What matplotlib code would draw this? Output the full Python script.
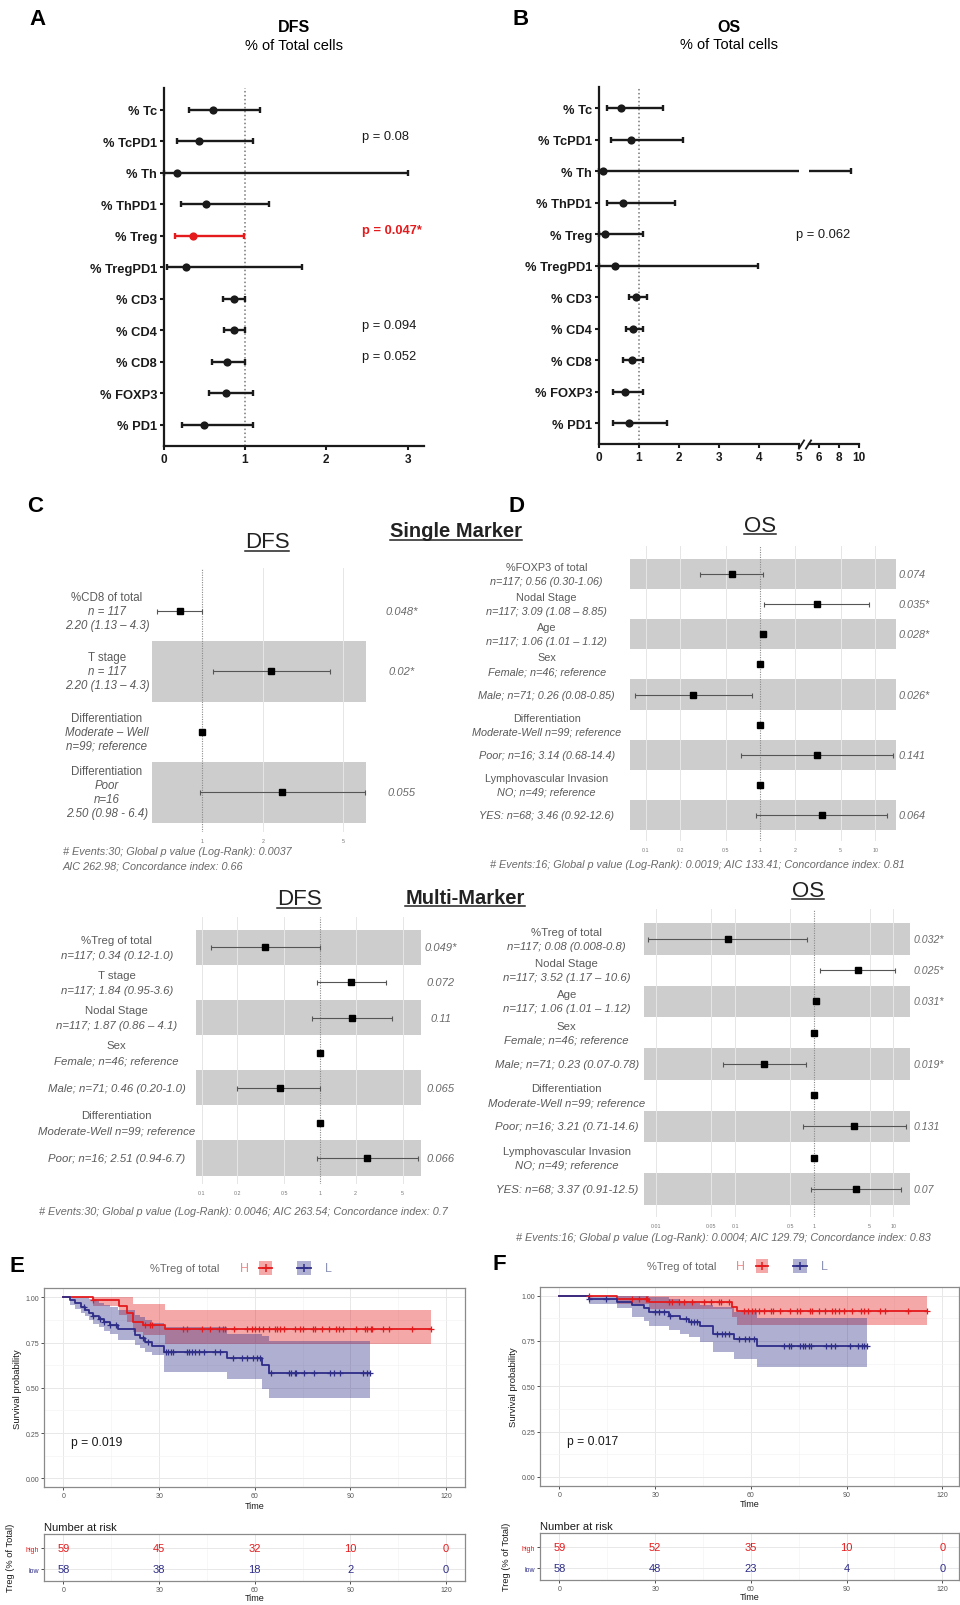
import numpy as np
import matplotlib
matplotlib.use("Agg")
import matplotlib.pyplot as plt
import matplotlib.transforms as mtransforms
from matplotlib.lines import Line2D
from matplotlib.patches import Rectangle

plt.rcParams["font.family"] = ["Liberation Sans", "DejaVu Sans"]

W, H = 960, 1606
RED = "#E41A1C"
BLUE = "#2E2D88"
INK = "#1a1a1a"
GREY_TXT = "#5a5a5a"

# ---------------- A / B : HR per immune population (% of total cells)
markers = ["% Tc", "% TcPD1", "% Th", "% ThPD1", "% Treg", "% TregPD1",
           "% CD3", "% CD4", "% CD8", "% FOXP3", "% PD1"]

dfs_hr = [0.61, 0.43, 0.16, 0.52, 0.36, 0.27, 0.87, 0.87, 0.78, 0.77, 0.50]
dfs_lo = [0.31, 0.16, 0.01, 0.21, 0.14, 0.04, 0.73, 0.74, 0.60, 0.56, 0.23]
dfs_hi = [1.19, 1.10, 3.00, 1.29, 0.99, 1.70, 1.00, 1.00, 1.00, 1.10, 1.10]
dfs_p = [None, "p = 0.08", None, None, "p = 0.047*", None, None,
         "p = 0.094", "p = 0.052", None, None]

os_hr = [0.57, 0.80, 0.11, 0.62, 0.17, 0.41, 0.92, 0.85, 0.82, 0.65, 0.76]
os_lo = [0.20, 0.30, 0.01, 0.20, 0.02, 0.02, 0.76, 0.67, 0.60, 0.37, 0.36]
os_hi = [1.60, 2.10, 9.20, 1.91, 1.10, 3.97, 1.20, 1.11, 1.11, 1.11, 1.71]
os_p = [None, None, None, None, "p = 0.062", None, None, None, None, None, None]

# ---------------- C / D : Cox models
c1_heads = ["%CD8 of total", "T stage", "Differentiation", "Differentiation"]
c1_subs = ["n = 117\n2.20 (1.13 \u2013 4.3)", "n = 117\n2.20 (1.13 \u2013 4.3)",
           "Moderate \u2013 Well\nn=99; reference", "Poor\nn=16\n2.50 (0.98 - 6.4)"]
c1_hr = [0.78, 2.20, 1.0, 2.50]
c1_lo = [0.60, 1.13, 1.0, 0.98]
c1_hi = [1.00, 4.30, 1.0, 6.40]
c1_p = ["0.048*", "0.02*", None, "0.055"]

d1_heads = ["%FOXP3 of total", "Nodal Stage", "Age", "Sex", None,
            "Differentiation", None, "Lymphovascular Invasion", None]
d1_subs = ["n=117; 0.56 (0.30-1.06)", "n=117; 3.09 (1.08 \u2013 8.85)",
           "n=117; 1.06 (1.01 \u2013 1.12)", "Female; n=46; reference",
           "Male; n=71; 0.26 (0.08-0.85)", "Moderate-Well n=99; reference",
           "Poor; n=16; 3.14 (0.68-14.4)", "NO; n=49; reference",
           "YES: n=68; 3.46 (0.92-12.6)"]
d1_hr = [0.56, 3.09, 1.06, 1.0, 0.26, 1.0, 3.14, 1.0, 3.46]
d1_lo = [0.30, 1.08, 1.01, 1.0, 0.08, 1.0, 0.68, 1.0, 0.92]
d1_hi = [1.06, 8.85, 1.12, 1.0, 0.85, 1.0, 14.4, 1.0, 12.6]
d1_p = ["0.074", "0.035*", "0.028*", None, "0.026*", None, "0.141", None, "0.064"]

c2_heads = ["%Treg of total", "T stage", "Nodal Stage", "Sex", None, "Differentiation", None]
c2_subs = ["n=117; 0.34 (0.12-1.0)", "n=117; 1.84 (0.95-3.6)",
           "n=117; 1.87 (0.86 \u2013 4.1)", "Female; n=46; reference",
           "Male; n=71; 0.46 (0.20-1.0)", "Moderate-Well n=99; reference",
           "Poor; n=16; 2.51 (0.94-6.7)"]
c2_hr = [0.34, 1.84, 1.87, 1.0, 0.46, 1.0, 2.51]
c2_lo = [0.12, 0.95, 0.86, 1.0, 0.20, 1.0, 0.94]
c2_hi = [1.00, 3.60, 4.10, 1.0, 1.00, 1.0, 6.70]
c2_p = ["0.049*", "0.072", "0.11", None, "0.065", None, "0.066"]

d2_heads = ["%Treg of total", "Nodal Stage", "Age", "Sex", None,
            "Differentiation", None, "Lymphovascular Invasion", None]
d2_subs = ["n=117; 0.08 (0.008-0.8)", "n=117; 3.52 (1.17 \u2013 10.6)",
           "n=117; 1.06 (1.01 \u2013 1.12)", "Female; n=46; reference",
           "Male; n=71; 0.23 (0.07-0.78)", "Moderate-Well n=99; reference",
           "Poor; n=16; 3.21 (0.71-14.6)", "NO; n=49; reference",
           "YES: n=68; 3.37 (0.91-12.5)"]
d2_hr = [0.08, 3.52, 1.06, 1.0, 0.23, 1.0, 3.21, 1.0, 3.37]
d2_lo = [0.008, 1.17, 1.01, 1.0, 0.07, 1.0, 0.71, 1.0, 0.91]
d2_hi = [0.80, 10.6, 1.12, 1.0, 0.78, 1.0, 14.6, 1.0, 12.5]
d2_p = ["0.032*", "0.025*", "0.031*", None, "0.019*", None, "0.131", None, "0.07"]

# ---------------- E / F : Kaplan-Meier by %Treg (high / low)
e_hi_t = [0, 9.4, 17.3, 19.8, 21.9, 25.0, 32.0]
e_hi_s = [1.0, 0.983, 0.95, 0.915, 0.865, 0.847, 0.825]
e_hi_lo = [1.0, 0.95, 0.905, 0.865, 0.81, 0.79, 0.742]
e_hi_up = [1.0, 1.0, 1.0, 1.0, 0.962, 0.962, 0.93]
e_hi_end = 115.3
e_hi_cens = [9.4, 25.6, 27.0, 27.7, 37.6, 38.7, 43.4, 45.9, 48.7, 50.1, 50.6, 53.5,
             57.5, 59.1, 60.1, 61.2, 62.5, 64.3, 66.4, 66.9, 68.0, 69.3, 72.6, 74.2,
             75.1, 78.4, 79.0, 81.1, 83.4, 85.6, 86.3, 87.7, 91.8, 94.4, 95.1, 96.5,
             96.9, 100.1, 102.2, 109.3, 115.3]

e_lo_t = [0, 2.1, 3.5, 5.5, 6.8, 7.9, 9.4, 11.0, 12.6, 14.6, 17.2, 22.5, 24.1,
          25.6, 27.7, 31.4, 51.2, 62.4, 64.6]
e_lo_s = [1.0, 0.983, 0.966, 0.948, 0.931, 0.914, 0.897, 0.879, 0.862, 0.845,
          0.827, 0.79, 0.773, 0.752, 0.733, 0.696, 0.666, 0.625, 0.583]
e_lo_lo = [1.0, 0.955, 0.935, 0.915, 0.895, 0.875, 0.855, 0.835, 0.815, 0.795,
           0.765, 0.735, 0.72, 0.70, 0.68, 0.586, 0.546, 0.495, 0.446]
e_lo_up = [1.0, 1.0, 1.0, 1.0, 1.0, 0.99, 0.98, 0.97, 0.955, 0.945, 0.93, 0.905,
           0.89, 0.875, 0.86, 0.835, 0.80, 0.785, 0.76]
e_lo_end = 96.0
e_lo_cens = [6.6, 9.4, 11.5, 12.8, 14.6, 16.4, 24.9, 26.4, 32.1, 32.9, 33.6, 34.2,
             38.6, 39.3, 40.4, 41.4, 42.5, 44.1, 47.4, 49.2, 53.3, 56.1, 57.6, 59.3,
             60.6, 61.6, 65.0, 70.8, 71.3, 72.6, 73.0, 75.4, 78.5, 83.5, 84.8, 86.7,
             93.8, 95.1, 96.0]

f_hi_t = [0, 18.1, 28.0, 54.1, 55.7]
f_hi_s = [1.0, 0.983, 0.965, 0.94, 0.914]
f_hi_lo = [1.0, 0.955, 0.925, 0.885, 0.84]
f_hi_up = [1.0, 1.0, 1.0, 1.0, 1.0]
f_hi_end = 115.3
f_hi_cens = [9.3, 22.8, 24.9, 27.1, 27.6, 34.2, 35.3, 37.4, 39.0, 41.6, 45.3, 47.4,
             50.0, 50.5, 53.2, 57.9, 59.0, 60.4, 61.4, 62.5, 64.1, 66.4, 67.0, 69.1,
             72.4, 74.5, 75.3, 78.5, 79.2, 81.3, 83.2, 85.5, 86.5, 87.6, 89.3, 91.7,
             94.4, 95.4, 96.7, 100.6, 102.0, 109.3, 115.3]

f_lo_t = [0, 9.4, 18.1, 22.8, 26.5, 28.0, 34.3, 37.9, 40.6, 44.2, 48.1, 54.6, 61.8]
f_lo_s = [1.0, 0.983, 0.966, 0.948, 0.93, 0.91, 0.89, 0.872, 0.853, 0.83, 0.79,
          0.763, 0.722]
f_lo_lo = [1.0, 0.955, 0.93, 0.885, 0.86, 0.835, 0.81, 0.79, 0.77, 0.745, 0.69,
           0.65, 0.607]
f_lo_up = [1.0, 1.0, 1.0, 1.0, 1.0, 0.995, 0.98, 0.97, 0.96, 0.95, 0.935, 0.91, 0.875]
f_lo_end = 96.3
f_lo_cens = [9.4, 14.7, 30.1, 31.1, 32.9, 34.8, 39.8, 41.1, 42.1, 43.2, 49.4, 50.9,
             52.0, 53.1, 56.2, 58.3, 59.5, 60.9, 70.3, 71.9, 72.6, 75.3, 76.4, 77.1,
             78.2, 78.9, 83.7, 85.0, 86.5, 91.2, 93.6, 94.9, 95.4, 96.3]

risk_times = [0, 30, 60, 90, 120]
e_risk_high = [59, 45, 32, 10, 0]
e_risk_low = [58, 38, 18, 2, 0]
f_risk_high = [59, 52, 35, 10, 0]
f_risk_low = [58, 48, 23, 4, 0]


fig = plt.figure(figsize=(W / 100, H / 100), dpi=100)


def add_ax(x0, y0, x1, y1, **kw):
    # pixel box (top-left origin) -> figure axes
    return fig.add_axes([x0 / W, 1 - y1 / H, (x1 - x0) / W, (y1 - y0) / H], **kw)


def ftext(x, y, s, **kw):
    return fig.text(x / W, 1 - y / H, s, **kw)


# ---------- A / B helpers
def cell_forest(ax, hr, lo, hi, highlight=None):
    for i, (m, l, h) in enumerate(zip(hr, lo, hi)):
        c = RED if i == highlight else INK
        ax.errorbar(m, i, xerr=[[m - l], [h - m]], fmt="none", ecolor=c,
                    elinewidth=1.7, capsize=2.4, capthick=1.7, zorder=3)
        ax.plot(m, i, "o", color=c, ms=5.9, mew=0, zorder=4)


def cell_axes(ax, xmax, ticks):
    ax.spines[["top", "right"]].set_visible(False)
    ax.spines["left"].set_position(("data", 0))
    ax.spines["bottom"].set_bounds(0, xmax)
    for s in ("left", "bottom"):
        ax.spines[s].set_linewidth(1.6)
        ax.spines[s].set_color(INK)
    ax.tick_params(width=1.5, length=3.2, pad=1.5, colors=INK)
    ax.set_xticks(ticks, [str(t) for t in ticks], fontweight="bold", fontsize=8.5)
    ax.set_yticks(np.arange(len(markers)), markers, fontweight="bold", fontsize=9.3)
    ax.axvline(1, color="#777777", ls=(0, (1, 1.6)), lw=1.1, zorder=1)


def cell_pvals(ax, x, pvals, shift, highlight=None):
    for i, p in enumerate(pvals):
        if p:
            sig = i == highlight
            ax.text(x, i + shift, p, ha="left", va="center", fontsize=9.3, zorder=10,
                    color=RED if sig else INK, fontweight="bold" if sig else "normal")


treg = markers.index("% Treg")

axA = add_ax(153.9, 89, 423.9, 447)
axA.set_xlim(-0.12, 3.2)
axA.set_ylim(10.667, -0.698)
cell_forest(axA, dfs_hr, dfs_lo, dfs_hi, highlight=treg)
cell_axes(axA, 3.2, [0, 1, 2, 3])
cell_pvals(axA, 2.44, dfs_p, -0.18, highlight=treg)

axB1 = add_ax(593.9, 88, 798.7, 445)
axB1.set_xlim(-0.12, 5)
axB1.set_ylim(10.657, -0.676)
cell_forest(axB1, os_hr, os_lo, os_hi)
cell_axes(axB1, 5, [0, 1, 2, 3, 4, 5])

axB2 = add_ax(808.7, 88, 858.7, 445, sharey=axB1)
axB2.patch.set_visible(False)
axB2.set_xlim(5, 10)
cell_forest(axB2, os_hr, os_lo, os_hi)
for s in ("top", "right", "left"):
    axB2.spines[s].set_visible(False)
axB2.spines["bottom"].set_linewidth(1.6)
axB2.spines["bottom"].set_color(INK)
axB2.tick_params(axis="y", left=False, labelleft=False)
axB2.tick_params(axis="x", width=1.5, length=3.2, pad=1.5, colors=INK)
axB2.set_xticks([6, 8, 10], ["6", "8", "10"], fontweight="bold", fontsize=8.5)
# p-value sits across the break, so it goes on the upper of the two axes
cell_pvals(axB2, 5 + (795.7 - 808.7) / 10, os_p, 0.0)
# axis break marks
slash = dict(marker=[(-1, -1.6), (1, 1.6)], ms=7, mew=1.3, color=INK,
             linestyle="none", clip_on=False)
axB1.plot([1.01], [0], transform=axB1.transAxes, **slash)
axB2.plot([-0.02], [0], transform=axB2.transAxes, **slash)

ftext(38, 19.5, "A", ha="center", va="center", fontsize=16, fontweight="bold")
ftext(521, 19.5, "B", ha="center", va="center", fontsize=16, fontweight="bold")
ftext(294, 27.5, "DFS", ha="center", va="center", fontsize=11.5, fontweight="bold")
ftext(294, 46, "% of Total cells", ha="center", va="center", fontsize=10.5)
ftext(729, 27.5, "OS", ha="center", va="center", fontsize=11.5, fontweight="bold")
ftext(729, 45, "% of Total cells", ha="center", va="center", fontsize=10.5)


# ---------- C / D helpers
def hr_forest(ax, hr, lo, hi, band_start, ticks, tick_labels, xlim, ylim):
    hr, lo, hi = (np.asarray(v, dtype=float) for v in (hr, lo, hi))
    rows = np.arange(len(hr))
    for r in rows[band_start::2]:
        ax.axhspan(r - 0.5, r + 0.5, color="#cdcdcd", lw=0, zorder=0)
    for t in ticks:
        if t != 1:
            ax.axvline(t, color="#e6e6e6", lw=0.7, zorder=0.5)
    ax.axvline(1, color="#8a8a8a", ls=(0, (1, 1.2)), lw=0.8, zorder=1)
    ci = lo < hi
    ax.errorbar(hr[ci], rows[ci], xerr=[hr[ci] - lo[ci], hi[ci] - hr[ci]], fmt="none",
                ecolor="#555555", elinewidth=0.8, capsize=1.8, capthick=0.8, zorder=2)
    ax.plot(hr, rows, "s", color="black", ms=3.9, zorder=3)
    ax.set_xscale("log")
    ax.set_xlim(*xlim)
    ax.set_ylim(*ylim)
    ax.set_xticks(ticks, tick_labels)
    ax.minorticks_off()
    ax.set_yticks([])
    ax.tick_params(axis="x", length=0, pad=4.5, labelsize=3.8, labelcolor="#777777")
    for s in ax.spines.values():
        s.set_visible(False)


def row_labels(ax, xc, heads, subs, size, gap_px=14):
    tr = mtransforms.blended_transform_factory(fig.transFigure, ax.transData)
    for r, (head, sub) in enumerate(zip(heads, subs)):
        lines = ([(head, "normal")] if head else []) + [(s, "italic") for s in sub.split("\n")]
        n = len(lines)
        for k, (txt, st) in enumerate(lines):
            dy = ((n - 1) / 2 - k) * gap_px * 0.72
            ax.annotate(txt, (xc / W, r), xycoords=tr, xytext=(0, dy),
                        textcoords="offset points", ha="center", va="center",
                        fontsize=size, style=st, color=GREY_TXT, annotation_clip=False)


def row_pvals(ax, x, pvals, ha, size):
    tr = mtransforms.blended_transform_factory(fig.transFigure, ax.transData)
    for r, p in enumerate(pvals):
        if p:
            ax.text(x / W, r, p, transform=tr, ha=ha, va="center", style="italic",
                    fontsize=size, color="#6a6a6a")


axC1 = add_ax(152.3, 569, 366, 833)
hr_forest(axC1, c1_hr, c1_lo, c1_hi, 1, [1, 2, 5], ["1", "2", "5"],
          (0.567, 6.49), (3.655, -0.705))
row_labels(axC1, 107, c1_heads, c1_subs, 8.3)
row_pvals(axC1, 401.7, c1_p, "center", 8)

axD1 = add_ax(630, 546.7, 896, 841.7)
hr_forest(axD1, d1_hr, d1_lo, d1_hi, 0, [0.1, 0.2, 0.5, 1, 2, 5, 10],
          ["0.1", "0.2", "0.5", "1", "2", "5", "10"], (0.073, 15.2), (8.85, -0.94))
row_labels(axD1, 546.7, d1_heads, d1_subs, 7.8)
row_pvals(axD1, 898.3, d1_p, "left", 7.8)

axC2 = add_ax(196.3, 918.3, 420.7, 1185)
hr_forest(axC2, c2_hr, c2_lo, c2_hi, 0, [0.1, 0.2, 0.5, 1, 2, 5],
          ["0.1", "0.2", "0.5", "1", "2", "5"], (0.09, 7.1), (6.74, -0.855))
row_labels(axC2, 116.7, c2_heads, c2_subs, 8.2, gap_px=15)
row_pvals(axC2, 441, c2_p, "center", 8)

axD2 = add_ax(644.3, 910, 910, 1218)
hr_forest(axD2, d2_hr, d2_lo, d2_hi, 0, [0.01, 0.05, 0.1, 0.5, 1, 5, 10],
          ["0.01", "0.05", "0.1", "0.5", "1", "5", "10"], (0.0071, 16.2), (8.9, -0.96))
row_labels(axD2, 566.7, d2_heads, d2_subs, 8.2)
row_pvals(axD2, 914, d2_p, "left", 7.6)

foot = dict(va="center", style="italic", fontsize=7.8, color="#6a6a6a")
ftext(63, 851.7, "# Events:30; Global p value (Log-Rank): 0.0037", ha="left", **foot)
ftext(63, 866.7, "AIC 262.98; Concordance index: 0.66", ha="left", **foot)
ftext(697, 865, "# Events:16; Global p value (Log-Rank): 0.0019; AIC 133.41; "
      "Concordance index: 0.81", ha="center", **foot)
ftext(243, 1211.7, "# Events:30; Global p value (Log-Rank): 0.0046; AIC 263.54; "
      "Concordance index: 0.7", ha="center", **foot)
ftext(723, 1238.3, "# Events:16; Global p value (Log-Rank): 0.0004; AIC 129.79; "
      "Concordance index: 0.83", ha="center", **foot)

ftext(34.7, 506.7, "C", ha="center", va="center", fontsize=16, fontweight="bold")
ftext(517, 507, "D", ha="center", va="center", fontsize=16, fontweight="bold")

underlined = [
    (ftext(267, 548, "DFS", ha="center", va="baseline", fontsize=16, color="#222222"), 551.7),
    (ftext(456, 537.3, "Single Marker", ha="center", va="baseline", fontsize=14.5,
           fontweight="bold", color="#222222"), 540.5),
    (ftext(760, 531.7, "OS", ha="center", va="baseline", fontsize=16, color="#222222"), 535),
    (ftext(299, 905, "DFS", ha="center", va="baseline", fontsize=16, color="#222222"), 909),
    (ftext(465, 904, "Multi-Marker", ha="center", va="baseline", fontsize=14.5,
           fontweight="bold", color="#222222"), 907),
    (ftext(807.7, 896.7, "OS", ha="center", va="baseline", fontsize=16, color="#222222"), 900),
]


# ---------- E / F helpers
def bw_theme(ax):
    ax.set_xticks([0, 30, 60, 90, 120])
    ax.set_xticks([15, 45, 75, 105], minor=True)
    ax.grid(True, which="major", color="#e8e8e8", lw=0.7)
    ax.grid(True, which="minor", color="#f4f4f4", lw=0.5)
    ax.set_axisbelow(True)
    for s in ax.spines.values():
        s.set_color("#8a8a8a")
        s.set_linewidth(0.9)
    ax.tick_params(which="major", length=2, width=0.6, color="#333333",
                   labelsize=5, labelcolor="#555555", pad=1.5)
    ax.tick_params(which="minor", length=0)


def km_curve(ax, t, s, lo, up, end, cens, color):
    t, s, lo, up = (np.asarray(v, dtype=float) for v in (t, s, lo, up))
    tt = np.append(t, end)
    ax.fill_between(tt, np.append(lo, lo[-1]), np.append(up, up[-1]), step="post",
                    color=color, alpha=0.38, lw=0, zorder=1)
    ax.step(tt, np.append(s, s[-1]), where="post", color=color, lw=1.3, zorder=3)
    idx = np.searchsorted(t, cens, side="right") - 1
    ax.plot(cens, s[idx], "+", color=color, ms=4.5, mew=0.9, zorder=4)


def km_panel(box, xmax, curves, pval):
    ax = add_ax(*box)
    for c in curves:
        km_curve(ax, *c)
    bw_theme(ax)
    ax.set_xlim(-6, xmax)
    ax.set_ylim(-0.05, 1.05)
    ax.set_yticks([0, 0.25, 0.5, 0.75, 1.0], ["0.00", "0.25", "0.50", "0.75", "1.00"])
    ax.set_yticks([0.125, 0.375, 0.625, 0.875], minor=True)
    ax.set_xlabel("Time", fontsize=6.5, labelpad=1, color=INK)
    ax.set_ylabel("Survival probability", fontsize=6.8, labelpad=3, color=INK)
    ax.text(2.4, 0.2, pval, ha="left", va="center", fontsize=8.7, color=INK)
    return ax


def risk_panel(box, xmax, high, low):
    ax = add_ax(*box)
    for t, h, l in zip(risk_times, high, low):
        ax.text(t, 1, str(h), color=RED, ha="center", va="center", fontsize=8)
        ax.text(t, 0, str(l), color=BLUE, ha="center", va="center", fontsize=8)
    bw_theme(ax)
    ax.set_xlim(-6, xmax)
    ax.set_ylim(-0.557, 1.667)
    ax.set_yticks([1, 0], ["high", "low"])
    for lbl, c in zip(ax.get_yticklabels(), (RED, BLUE)):
        lbl.set_color(c)
    ax.set_xlabel("Time", fontsize=6.5, labelpad=0.5, color=INK)
    ax.set_ylabel("Treg (% of Total)", fontsize=6.7, labelpad=8, color=INK)
    ax.set_title("Number at risk", loc="left", fontsize=8, pad=3, color=INK)
    return ax


def km_legend(x_title, x_h, key_red, key_blue, x_l, y):
    ftext(x_title, y, "%Treg of total", ha="left", va="center", fontsize=8, color="#6a6a6a")
    ftext(x_h, y, "H", ha="center", va="center", fontsize=9, color="#F08A8A")
    ftext(x_l, y, "L", ha="center", va="center", fontsize=9, color="#8C93B5")
    for (x0, x1), c in ((key_red, RED), (key_blue, BLUE)):
        fig.add_artist(Rectangle((x0 / W, 1 - (y + 7) / H), (x1 - x0) / W, 14 / H,
                                 transform=fig.transFigure, facecolor=c, alpha=0.38, lw=0))
        fig.add_artist(Line2D([x0 / W, x1 / W], [1 - y / H] * 2, color=c, lw=1.3,
                              transform=fig.transFigure))
        fig.add_artist(Line2D([(x0 + x1) / 2 / W], [1 - y / H], marker="+", ms=6, mew=1.1,
                              color=c, transform=fig.transFigure))


km_panel((44.3, 1289.3, 465.3, 1488.3), 126,
         [(e_hi_t, e_hi_s, e_hi_lo, e_hi_up, e_hi_end, e_hi_cens, RED),
          (e_lo_t, e_lo_s, e_lo_lo, e_lo_up, e_lo_end, e_lo_cens, BLUE)], "p = 0.019")
risk_panel((44.3, 1535, 465.3, 1581.7), 126, e_risk_high, e_risk_low)
km_legend(150, 244.3, (259, 272), (296.7, 310.7), 328.3, 1269)

f_xmax = -6 + (959.3 - 540.3) / 3.19
km_panel((540.3, 1287.6, 959.3, 1487), f_xmax,
         [(f_hi_t, f_hi_s, f_hi_lo, f_hi_up, f_hi_end, f_hi_cens, RED),
          (f_lo_t, f_lo_s, f_lo_lo, f_lo_up, f_lo_end, f_lo_cens, BLUE)], "p = 0.017")
risk_panel((540.3, 1534, 959.3, 1580.7), f_xmax, f_risk_high, f_risk_low)
km_legend(646.7, 740.7, (755.7, 768.3), (792.7, 806.7), 824.3, 1267.3)

ftext(16.7, 1266, "E", ha="center", va="center", fontsize=16, fontweight="bold")
ftext(499, 1265, "F", ha="center", va="center", fontsize=16, fontweight="bold")

# underline the section headings
renderer = fig.canvas.get_renderer()
for txt, y_ul in underlined:
    bb = txt.get_window_extent(renderer)
    fig.add_artist(Line2D([bb.x0 / W, bb.x1 / W], [1 - y_ul / H] * 2, color="#222222",
                          lw=1.1, transform=fig.transFigure))

fig.savefig("out.png", dpi=100)
